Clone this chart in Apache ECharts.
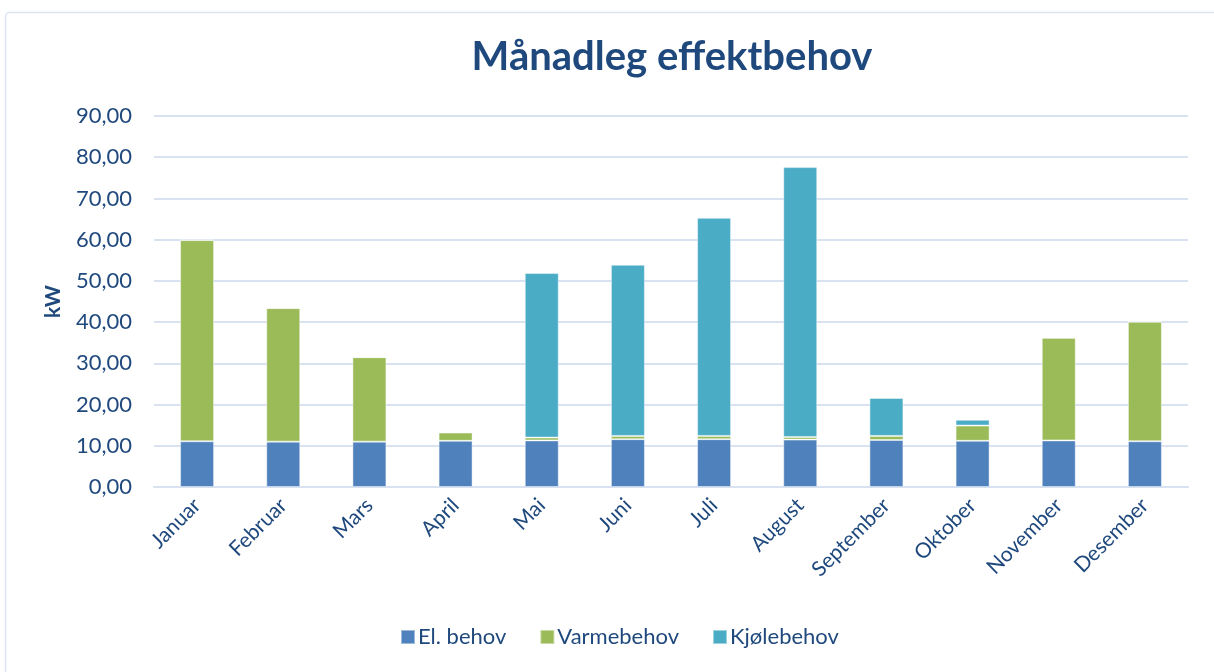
<!DOCTYPE html>
<html>
<head>
<meta charset="utf-8">
<script src="https://cdn.jsdelivr.net/npm/echarts@6/dist/echarts.min.js"></script>
<style>
html,body{margin:0;padding:0;background:#fff;}
#chart{width:1214px;height:672px;}
</style>
</head>
<body>
<div id="chart"></div>
<script>
var categories = ['Januar','Februar','Mars','April','Mai','Juni','Juli','August','September','Oktober','November','Desember'];
var elBehov    = [11.1, 11.0, 11.0, 11.2, 11.3, 11.6, 11.6, 11.5, 11.4, 11.2, 11.3, 11.1];
var varmeBehov = [48.8, 32.4, 20.5, 2.0, 0.7, 0.8, 0.8, 0.6, 1.0, 3.7, 24.9, 29.0];
var kjoleBehov = [0, 0, 0, 0.2, 39.9, 41.5, 52.9, 65.5, 9.2, 1.4, 0, 0];
var seriesNames = ['El. behov','Varmebehov','Kjølebehov'];
var titleText = 'Månadleg effektbehov';
var yAxisName = 'kW';

var textColor = '#1F497D';
var font = 'Lato, "Open Sans", sans-serif';
var colors = ['#4F81BD','#9BBB59','#4BACC6'];

var chart = echarts.init(document.getElementById('chart'));
function barSeries(name, data, color){
  return {
    name: name, type: 'bar', stack: 'total', data: data, barWidth: 34,
    itemStyle: {color: color, borderColor: 'rgba(255,255,255,0.45)', borderWidth: 1},
    emphasis: {disabled: true}
  };
}
chart.setOption({
  animation: false,
  color: colors,
  graphic: [{
    type: 'rect', left: 3, top: 10,
    shape: {width: 1300, height: 720, r: 4},
    style: {fill: 'none', stroke: '#DCE5F1', lineWidth: 1.5},
    silent: true, z: -1
  }],
  title: {
    text: titleText, left: 667, top: 32, textAlign: 'center',
    textStyle: {color: textColor, fontFamily: font, fontWeight: 'bold', fontSize: 40}
  },
  legend: {
    bottom: 19, left: 395,
    itemWidth: 14, itemHeight: 14, itemGap: 33,
    icon: 'rect',
    textStyle: {color: textColor, fontFamily: font, fontSize: 22, padding: [0,0,0,-2]},
    data: seriesNames
  },
  grid: {left: 154, right: 26, top: 116, bottom: 185, containLabel: false},
  xAxis: {
    type: 'category', data: categories,
    axisLine: {show: true, lineStyle: {color: '#D9E2F1', width: 2}},
    axisTick: {show: false},
    axisLabel: {rotate: 45, margin: 15, color: textColor, fontFamily: font, fontSize: 21, interval: 0}
  },
  yAxis: {
    type: 'value', min: 0, max: 90, interval: 10,
    name: yAxisName, nameLocation: 'middle', nameGap: 90, nameRotate: 90,
    nameTextStyle: {color: textColor, fontFamily: font, fontWeight: 'bold', fontSize: 21},
    axisLine: {show: false}, axisTick: {show: false},
    splitLine: {lineStyle: {color: '#D9E2F1', width: 2}},
    axisLabel: {
      margin: 22, color: textColor, fontFamily: font, fontSize: 22,
      formatter: function(v){ return v.toFixed(2).replace('.', ','); }
    }
  },
  series: [
    barSeries(seriesNames[0], elBehov, colors[0]),
    barSeries(seriesNames[1], varmeBehov, colors[1]),
    barSeries(seriesNames[2], kjoleBehov, colors[2])
  ]
});
</script>
</body>
</html>
